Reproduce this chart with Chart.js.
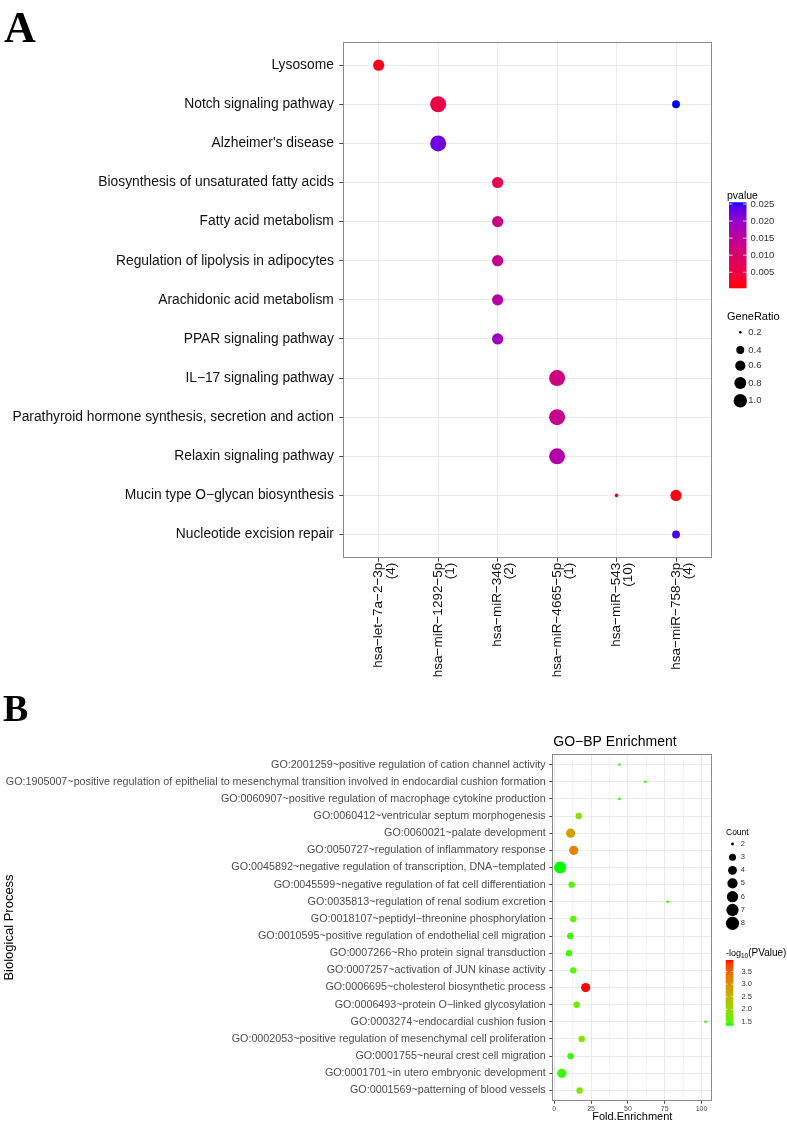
<!DOCTYPE html>
<html><head><meta charset="utf-8">
<script src="https://cdn.jsdelivr.net/npm/chart.js@4.4.0/dist/chart.umd.min.js"></script>
<style>html,body{margin:0;padding:0;background:#fff;}#wrap{position:relative;width:787px;height:1139px;overflow:hidden;}canvas{position:absolute;left:0;}</style>
</head><body><div id="wrap"><canvas id="ca" width="787" height="690" style="top:0;width:787px;height:690px"></canvas><canvas id="cb" width="787" height="449" style="top:690px;width:787px;height:449px"></canvas></div>
<script>
// ---------------- Panel A data ----------------
const pathways = ["Lysosome","Notch signaling pathway","Alzheimer's disease","Biosynthesis of unsaturated fatty acids","Fatty acid metabolism","Regulation of lipolysis in adipocytes","Arachidonic acid metabolism","PPAR signaling pathway","IL−17 signaling pathway","Parathyroid hormone synthesis, secretion and action","Relaxin signaling pathway","Mucin type O−glycan biosynthesis","Nucleotide excision repair"];
const mirnas = ["hsa−let−7a−2−3p","hsa−miR−1292−5p","hsa−miR−346","hsa−miR−4665−5p","hsa−miR−543","hsa−miR−758−3p"];
const mirnaGeneCounts = ["(4)","(1)","(2)","(1)","(10)","(4)"];
const aPointMirna = ["hsa−let−7a−2−3p","hsa−miR−1292−5p","hsa−miR−1292−5p","hsa−miR−346","hsa−miR−346","hsa−miR−346","hsa−miR−346","hsa−miR−346","hsa−miR−4665−5p","hsa−miR−4665−5p","hsa−miR−4665−5p","hsa−miR−543","hsa−miR−758−3p","hsa−miR−758−3p","hsa−miR−758−3p"];
const aPointPathway = ["Lysosome","Notch signaling pathway","Alzheimer's disease","Biosynthesis of unsaturated fatty acids","Fatty acid metabolism","Regulation of lipolysis in adipocytes","Arachidonic acid metabolism","PPAR signaling pathway","IL−17 signaling pathway","Parathyroid hormone synthesis, secretion and action","Relaxin signaling pathway","Mucin type O−glycan biosynthesis","Notch signaling pathway","Mucin type O−glycan biosynthesis","Nucleotide excision repair"];
const aGeneRatio = [0.5,1.0,1.0,0.5,0.5,0.5,0.5,0.5,1.0,1.0,1.0,0.1,0.25,0.5,0.25];
const aPvalue = [0.0018,0.0058,0.0225,0.0063,0.0124,0.0137,0.0156,0.0190,0.0119,0.0134,0.0166,0.0003,0.0255,0.0011,0.0242];
const pvalueBreaks = [0.005,0.010,0.015,0.020,0.025];
const geneRatioBreaks = [0.2,0.4,0.6,0.8,1.0];

// ---------------- Panel B data ----------------
const goTerms = ["GO:2001259~positive regulation of cation channel activity","GO:1905007~positive regulation of epithelial to mesenchymal transition involved in endocardial cushion formation","GO:0060907~positive regulation of macrophage cytokine production","GO:0060412~ventricular septum morphogenesis","GO:0060021~palate development","GO:0050727~regulation of inflammatory response","GO:0045892~negative regulation of transcription, DNA−templated","GO:0045599~negative regulation of fat cell differentiation","GO:0035813~regulation of renal sodium excretion","GO:0018107~peptidyl−threonine phosphorylation","GO:0010595~positive regulation of endothelial cell migration","GO:0007266~Rho protein signal transduction","GO:0007257~activation of JUN kinase activity","GO:0006695~cholesterol biosynthetic process","GO:0006493~protein O−linked glycosylation","GO:0003274~endocardial cushion fusion","GO:0002053~positive regulation of mesenchymal cell proliferation","GO:0001755~neural crest cell migration","GO:0001701~in utero embryonic development","GO:0001569~patterning of blood vessels"];
const foldEnrichment = [44.2,61.8,44.2,16.6,11.1,13.2,3.9,11.8,77.0,12.9,10.8,10.0,12.9,21.3,15.2,102.8,18.6,11.0,5.1,17.2];
const goCount = [2,2,2,3,5,5,8,3,2,3,3,3,3,5,3,2,3,3,5,3];
const negLog10P = [1.40,1.40,1.40,1.87,2.79,3.18,1.35,1.53,1.40,1.56,1.45,1.44,1.53,3.96,1.61,1.40,1.82,1.45,1.43,1.82];
const foldTicks = [0,25,50,75,100];
const countBreaks = [2,3,4,5,6,7,8];
const negLogBreaks = [1.5,2.0,2.5,3.0,3.5];

// ---------------- colour helpers (Lab interpolation like ggplot) ----------------
function s2l(c){c/=255;return c<=0.04045?c/12.92:Math.pow((c+0.055)/1.055,2.4);}
function l2s(c){c=Math.max(0,Math.min(1,c));return Math.round(255*(c<=0.0031308?12.92*c:1.055*Math.pow(c,1/2.4)-0.055));}
function toLab(rgb){const R=s2l(rgb[0]),G=s2l(rgb[1]),B=s2l(rgb[2]);
 const X=(0.4124564*R+0.3575761*G+0.1804375*B)/0.95047,Y=0.2126729*R+0.7151522*G+0.0721750*B,Z=(0.0193339*R+0.1191920*G+0.9503041*B)/1.08883;
 const f=t=>t>0.008856?Math.cbrt(t):7.787*t+16/116;const fx=f(X),fy=f(Y),fz=f(Z);return [116*fy-16,500*(fx-fy),200*(fy-fz)];}
function fromLab(l){const fy=(l[0]+16)/116,fx=fy+l[1]/500,fz=fy-l[2]/200;const fi=t=>t>0.206893?t*t*t:(t-16/116)/7.787;
 const X=fi(fx)*0.95047,Y=fi(fy),Z=fi(fz)*1.08883;
 return [l2s(3.2404542*X-1.5371385*Y-0.4985314*Z),l2s(-0.9692660*X+1.8760108*Y+0.0415560*Z),l2s(0.0556434*X-0.2040259*Y+1.0572252*Z)];}
function labScale(lo,hi,vmin,vmax){const a=toLab(lo),b=toLab(hi);return v=>{let t=(v-vmin)/(vmax-vmin);t=Math.max(0,Math.min(1,t));const c=fromLab([a[0]+(b[0]-a[0])*t,a[1]+(b[1]-a[1])*t,a[2]+(b[2]-a[2])*t]);return `rgb(${c[0]},${c[1]},${c[2]})`;};}

const pMin=Math.min(...aPvalue),pMax=Math.max(...aPvalue);
const colorA=labScale([255,0,0],[0,0,255],pMin,pMax);
const gMin=Math.min(...aGeneRatio),gMax=Math.max(...aGeneRatio);
const rA=v=>1.8+6.2*Math.pow((v-gMin)/(gMax-gMin),0.6);
const rAkey=v=>1.3+5.4*Math.sqrt((v-0.2)/0.8);

const nMin=Math.min(...negLog10P),nMax=Math.max(...negLog10P);
const colorB=labScale([0,255,0],[255,0,0],nMin,nMax);
const cMin=Math.min(...goCount),cMax=Math.max(...goCount);
const rB=c=>1.3+4.7*Math.sqrt((c-cMin)/(cMax-cMin));

Chart.defaults.font.family="'Liberation Sans', Arial, Helvetica, sans-serif";
Chart.defaults.devicePixelRatio=1;

const frame={id:'frame',afterDatasetsDraw(chart){const {ctx,chartArea:a}=chart;ctx.save();ctx.strokeStyle='#8a8a8a';ctx.lineWidth=1;
 const l=Math.round(a.left),t=Math.round(a.top),r=Math.round(a.right),b=Math.round(a.bottom);ctx.strokeRect(l+0.5,t+0.5,r-l-1,b-t-1);ctx.restore();}};

function colorbar(ctx,x0,y0,w,h,scaleFn,vmin,vmax,breaks,fmt,labelX,font,tickW){
 const g=ctx.createLinearGradient(0,y0+h,0,y0);for(let i=0;i<=40;i++){g.addColorStop(i/40,scaleFn(vmin+(vmax-vmin)*i/40));}
 ctx.fillStyle=g;ctx.fillRect(x0,y0,w,h);
 ctx.font=font;ctx.fillStyle='#333';ctx.textAlign='left';ctx.textBaseline='middle';
 breaks.forEach(v=>{const y=y0+h-(v-vmin)/(vmax-vmin)*h;ctx.strokeStyle='rgba(255,255,255,0.8)';ctx.lineWidth=1;ctx.beginPath();ctx.moveTo(x0,y);ctx.lineTo(x0+tickW,y);ctx.moveTo(x0+w-tickW,y);ctx.lineTo(x0+w,y);ctx.stroke();ctx.fillText(fmt(v),labelX,y);});
}

const legendA={id:'legendA',afterDraw(chart){const ctx=chart.ctx;ctx.save();
 ctx.fillStyle='#000';ctx.font="bold 44px 'Liberation Serif', 'Times New Roman', serif";ctx.textBaseline='alphabetic';ctx.textAlign='left';ctx.fillText('A',4,42);
 ctx.fillStyle='#000';ctx.font="10.5px 'Liberation Sans', Arial, sans-serif";ctx.fillText('pvalue',727,198.5);
 colorbar(ctx,729,202.3,17.5,86,colorA,pMin,pMax,pvalueBreaks,v=>v.toFixed(3),750.5,"9.5px 'Liberation Sans', Arial, sans-serif",3.5);
 ctx.fillStyle='#000';ctx.font="11px 'Liberation Sans', Arial, sans-serif";ctx.textBaseline='alphabetic';ctx.fillText('GeneRatio',727,320);
 const ys=[332.3,350,365.7,383,400.7];
 geneRatioBreaks.forEach((v,i)=>{ctx.fillStyle='#000';ctx.beginPath();ctx.arc(740.3,ys[i],rAkey(v),0,Math.PI*2);ctx.fill();
  ctx.fillStyle='#333';ctx.font="9.5px 'Liberation Sans', Arial, sans-serif";ctx.textBaseline='middle';ctx.fillText(v.toFixed(1),748.3,ys[i]);});
 ctx.restore();}};

const legendB={id:'legendB',afterDraw(chart){const ctx=chart.ctx;ctx.save();
 ctx.fillStyle='#000';ctx.font="bold 38px 'Liberation Serif', 'Times New Roman', serif";ctx.textBaseline='alphabetic';ctx.textAlign='left';ctx.fillText('B',3,31);
 ctx.font="14px 'Liberation Sans', Arial, sans-serif";ctx.fillText('GO−BP Enrichment',553.3,55.7);
 ctx.font="8.5px 'Liberation Sans', Arial, sans-serif";ctx.fillText('Count',726,145);
 const ys=[154,167.3,180.3,193.3,206.7,220,233.3];
 countBreaks.forEach((c,i)=>{ctx.fillStyle='#000';ctx.beginPath();ctx.arc(732.5,ys[i],rB(c)*1.1,0,Math.PI*2);ctx.fill();
  ctx.fillStyle='#333';ctx.font="7.5px 'Liberation Sans', Arial, sans-serif";ctx.textBaseline='middle';ctx.fillText(String(c),740.7,ys[i]);});
 ctx.fillStyle='#000';ctx.textBaseline='alphabetic';ctx.font="9px 'Liberation Sans', Arial, sans-serif";
 let x=726;ctx.fillText('-log',x,265.7);x+=ctx.measureText('-log').width;
 ctx.font="6.5px 'Liberation Sans', Arial, sans-serif";ctx.fillText('10',x,268);x+=ctx.measureText('10').width;
 ctx.font="10px 'Liberation Sans', Arial, sans-serif";ctx.fillText('(PValue)',x,265.7);
 colorbar(ctx,725.7,270,7.6,65.7,colorB,nMin,nMax,negLogBreaks,v=>v.toFixed(1),741.5,"7.5px 'Liberation Sans', Arial, sans-serif",1.6);
 ctx.restore();}};

// ---------------- Chart A ----------------
const aData=aGeneRatio.map((g,i)=>({x:mirnas.indexOf(aPointMirna[i])+1,y:pathways.indexOf(aPointPathway[i])+1,r:rA(g)}));
new Chart(document.getElementById('ca'),{
 type:'bubble',
 data:{datasets:[{data:aData,backgroundColor:aPvalue.map(colorA),borderWidth:0,hoverBorderWidth:0,clip:false}]},
 options:{responsive:false,animation:false,events:[],devicePixelRatio:1,
  layout:{padding:{left:0,right:75.3,top:41.7,bottom:0}},
  plugins:{legend:{display:false},tooltip:{enabled:false}},
  scales:{
   x:{type:'linear',min:0.4,max:6.6,
    afterBuildTicks:s=>{s.ticks=mirnas.map((_,i)=>({value:i+1}));},
    afterFit:s=>{s.height=690-558;},
    ticks:{autoSkip:false,minRotation:90,maxRotation:90,padding:1,color:'#111',font:{size:13.5,lineHeight:0.9},callback:(v,i)=>[mirnas[i],mirnaGeneCounts[i]]},
    grid:{color:'#ebebeb',lineWidth:1,tickLength:3.7,tickColor:'#444',drawTicks:true},border:{display:false}},
   y:{type:'linear',reverse:true,min:0.4,max:13.6,
    afterBuildTicks:s=>{s.ticks=pathways.map((_,i)=>({value:i+1}));},
    afterFit:s=>{s.width=343;},
    ticks:{autoSkip:false,padding:5.5,color:'#111',font:{size:13.8},callback:(v,i)=>pathways[i]},
    grid:{color:'#ebebeb',lineWidth:1,tickLength:3.7,tickColor:'#444',drawTicks:true},border:{display:false}}
  }},
 plugins:[frame,legendA]
});

// ---------------- Chart B ----------------
const bData=foldEnrichment.map((fe,i)=>({x:fe,y:i+1,r:rB(goCount[i])}));
const minorFold=[12.5,37.5,62.5,87.5];
new Chart(document.getElementById('cb'),{
 type:'bubble',
 data:{datasets:[{data:bData,backgroundColor:negLog10P.map(colorB),borderWidth:0,hoverBorderWidth:0,clip:false}]},
 options:{responsive:false,animation:false,events:[],devicePixelRatio:1,
  layout:{padding:{left:0,right:74.7,top:64.3,bottom:15.5}},
  plugins:{legend:{display:false},tooltip:{enabled:false}},
  scales:{
   x:{type:'linear',min:-1.36,max:107.3,
    afterBuildTicks:s=>{s.ticks=foldTicks.concat(minorFold).sort((a,b)=>a-b).map(v=>({value:v}));},
    afterFit:s=>{s.height=22.8;},
    title:{display:true,text:'Fold.Enrichment',color:'#000',font:{size:11},padding:{top:0,bottom:0}},
    ticks:{autoSkip:false,maxRotation:0,padding:1,color:'#4d4d4d',font:{size:7},callback:v=>foldTicks.includes(v)?String(v):''},
    grid:{color:c=>foldTicks.includes(c.tick&&c.tick.value)?'#e9e9e9':'#f4f4f4',lineWidth:1,tickLength:3,
     tickColor:c=>foldTicks.includes(c.tick&&c.tick.value)?'#444':'rgba(0,0,0,0)',drawTicks:true},border:{display:false}},
   y:{type:'linear',reverse:true,min:0.4,max:20.6,
    afterBuildTicks:s=>{s.ticks=goTerms.map((_,i)=>({value:i+1}));},
    afterFit:s=>{s.width=552.3;},
    title:{display:true,text:'Biological Process',color:'#000',font:{size:13},padding:{top:2,bottom:0}},
    ticks:{autoSkip:false,padding:3.6,color:'#4d4d4d',font:{size:10.75},callback:(v,i)=>goTerms[i]},
    grid:{color:'#ebebeb',lineWidth:1,tickLength:3,tickColor:'#444',drawTicks:true},border:{display:false}}
  }},
 plugins:[frame,legendB]
});
</script></body></html>
